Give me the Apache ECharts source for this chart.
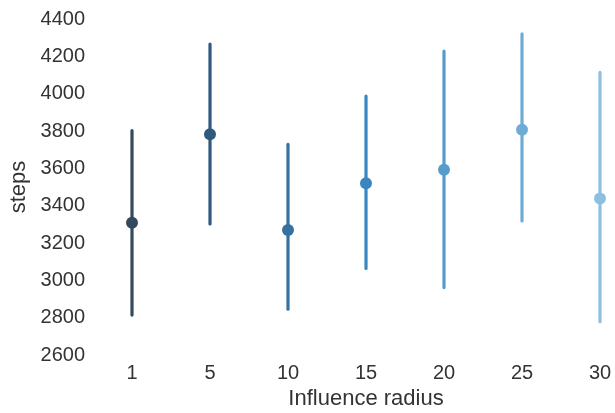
<!DOCTYPE html>
<html>
<head>
<meta charset="utf-8">
<script src="https://cdn.jsdelivr.net/npm/echarts@6/dist/echarts.min.js"></script>
<style>html,body{margin:0;padding:0;background:#fff}#c{width:615px;height:413px}</style>
</head>
<body>
<div id="c"></div>
<script>
const categories = ['1', '5', '10', '15', '20', '25', '30'];
const means = [3309, 3782, 3270, 3520, 3593, 3807, 3439];
const lowers = [2814, 3302, 2845, 3064, 2961, 3318, 2778];
const uppers = [3802, 4266, 3729, 3987, 4228, 4320, 4114];
const colors = ['#34495c', '#305a7d', '#3571a1', '#3a87c0', '#559dcd', '#6eacd7', '#8dbfe0'];

const chart = echarts.init(document.getElementById('c'), null, {renderer: 'canvas'});
const font = '"Liberation Sans", Arial, sans-serif';
chart.setOption({
  animation: false,
  backgroundColor: '#fff',
  grid: {left: 93, top: 19, width: 546, height: 336, containLabel: false, outerBoundsMode: 'none'},
  xAxis: {
    type: 'category', data: categories, boundaryGap: true,
    axisLine: {show: false}, axisTick: {show: false}, splitLine: {show: false},
    axisLabel: {color: '#333', fontSize: 20, fontFamily: font, margin: 8},
    name: 'Influence radius', nameLocation: 'middle', nameGap: 31,
    nameTextStyle: {color: '#333', fontSize: 22, fontFamily: font}
  },
  yAxis: {
    type: 'value', min: 2600, max: 4400, interval: 200,
    axisLine: {show: false}, axisTick: {show: false}, splitLine: {show: false},
    axisLabel: {color: '#333', fontSize: 20, fontFamily: font, margin: 8, formatter: v => String(v)},
    name: 'steps', nameLocation: 'middle', nameGap: 54, nameRotate: 90,
    nameTextStyle: {color: '#333', fontSize: 22, fontFamily: font}
  },
  series: [
    {
      type: 'custom',
      data: categories.map((c, i) => [i, lowers[i], uppers[i]]),
      renderItem: function (params, api) {
        const i = api.value(0);
        const p1 = api.coord([i, api.value(1)]);
        const p2 = api.coord([i, api.value(2)]);
        return {
          type: 'line',
          shape: {x1: p1[0], y1: p1[1], x2: p2[0], y2: p2[1]},
          style: {stroke: colors[params.dataIndex], lineWidth: 3.2, lineCap: 'round'}
        };
      },
      z: 2
    },
    {
      type: 'scatter',
      data: means.map((v, i) => ({value: [i, v], itemStyle: {color: colors[i], opacity: 1}})),
      symbol: 'circle', symbolSize: 12,
      z: 3
    }
  ]
});
</script>
</body>
</html>
